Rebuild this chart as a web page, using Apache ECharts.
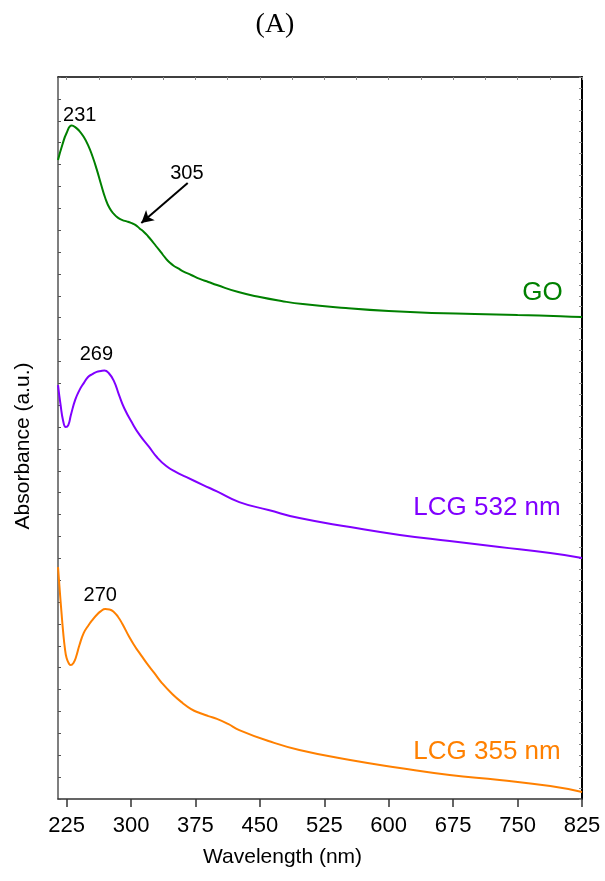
<!DOCTYPE html>
<html>
<head>
<meta charset="utf-8">
<script src="https://cdn.jsdelivr.net/npm/echarts@6/dist/echarts.min.js"></script>
<style>
  html, body { margin: 0; padding: 0; background: #fff; }
  #chart { width: 605px; height: 881px; }
</style>
</head>
<body>
<div id="chart"></div>
<script>
// UV-Vis absorbance spectra (arbitrary units, curves stacked vertically)
const goWavelength = [215, 220, 225, 231, 235, 240, 245, 250, 255, 260, 265, 270, 275, 280, 285, 290, 295, 300, 305, 310, 315, 320, 325, 330, 335, 340, 345, 350, 355, 360, 370, 380, 390, 400, 425, 450, 475, 500, 550, 600, 650, 700, 750, 800, 825];
const goAbsorbance = [2.921, 2.989, 3.044, 3.078, 3.071, 3.053, 3.026, 2.989, 2.939, 2.879, 2.811, 2.747, 2.701, 2.674, 2.656, 2.646, 2.640, 2.633, 2.624, 2.608, 2.592, 2.571, 2.548, 2.523, 2.498, 2.473, 2.452, 2.436, 2.425, 2.413, 2.395, 2.377, 2.363, 2.349, 2.317, 2.294, 2.276, 2.262, 2.244, 2.230, 2.221, 2.217, 2.212, 2.207, 2.203];

const lcg532Wavelength = [215, 218, 221, 224, 227, 230, 235, 240, 245, 250, 255, 260, 265, 269, 274, 280, 286, 292, 302, 310, 321, 330, 341, 352, 364, 384, 400, 426, 460, 496, 555, 613, 671, 729, 788, 825];
const lcg532Absorbance = [1.892, 1.801, 1.728, 1.700, 1.709, 1.755, 1.824, 1.869, 1.901, 1.929, 1.942, 1.952, 1.956, 1.958, 1.947, 1.911, 1.847, 1.787, 1.714, 1.664, 1.609, 1.563, 1.522, 1.495, 1.472, 1.435, 1.406, 1.357, 1.321, 1.284, 1.243, 1.207, 1.179, 1.152, 1.124, 1.102];

const lcg355Wavelength = [215, 217, 219, 221, 223, 225, 228, 230, 233, 236, 240, 245, 250, 255, 260, 265, 270, 275, 280, 285, 290, 298, 305, 310, 318, 327, 336, 348, 360, 370, 380, 390, 400, 413, 426, 460, 496, 555, 613, 671, 729, 788, 825];
const lcg355Absorbance = [1.060, 0.955, 0.855, 0.763, 0.690, 0.644, 0.617, 0.612, 0.622, 0.649, 0.704, 0.759, 0.791, 0.818, 0.841, 0.859, 0.868, 0.866, 0.855, 0.832, 0.800, 0.740, 0.695, 0.667, 0.622, 0.576, 0.530, 0.480, 0.439, 0.411, 0.393, 0.379, 0.366, 0.343, 0.315, 0.265, 0.224, 0.178, 0.142, 0.110, 0.087, 0.059, 0.032];

const xTickLabels = [225, 300, 375, 450, 525, 600, 675, 750, 825];
const xMinorTicks = [225, 262.5, 300, 337.5, 375, 412.5, 450, 487.5, 525, 562.5, 600, 637.5, 675, 712.5, 750, 787.5, 825];

// Peak annotations: [wavelength, absorbance]
const goPeak = [231, 3.078];
const lcg532Peak = [269, 1.958];
const lcg355Peak = [270, 0.868];
// Shoulder annotation for GO: label position and arrow pointing at the curve
const goShoulder = 305;
const goShoulderLabelAt = [365, 2.861];
const goShoulderArrow = [[366, 2.815], [312, 2.633]];

const seriesNames = ['GO', 'LCG 532 nm', 'LCG 355 nm'];
const seriesColors = ['#008000', '#8000ff', '#ff8000'];

const pair = (xs, ys) => xs.map((x, i) => [x, ys[i]]);
const lastPoint = (xs, ys) => [xs[xs.length - 1], ys[ys.length - 1]];
const textFont = 'Liberation Sans, Arial, sans-serif';

// Invisible anchor carrying a text label
function textMark(coord, text, offset, color, size) {
  return {
    coord: coord,
    symbol: 'circle',
    symbolSize: 1,
    itemStyle: { color: 'rgba(0,0,0,0)' },
    label: {
      show: true,
      formatter: String(text),
      position: 'inside',
      offset: offset,
      color: color,
      fontSize: size,
      fontFamily: textFont
    }
  };
}

const chart = echarts.init(document.getElementById('chart'), null, { renderer: 'canvas' });

const option = {
  backgroundColor: '#fff',
  animation: false,
  title: {
    text: '(A)',
    left: 270,
    top: 6,
    textAlign: 'center',
    textStyle: { fontFamily: 'Liberation Serif, Times New Roman, serif', fontSize: 28, fontWeight: 'normal', color: '#000' }
  },
  grid: { left: 58, right: 23, top: 77, bottom: 82, containLabel: false, outerBoundsMode: 'none' },
  xAxis: [
    {
      type: 'value', min: 215, max: 825, position: 'bottom',
      axisLine: { show: true, onZero: false, lineStyle: { color: '#333', width: 1.5 } },
      axisTick: { show: true, inside: false, length: 8, customValues: xTickLabels, lineStyle: { color: '#333', width: 1.5 } },
      axisLabel: { show: true, customValues: xTickLabels, margin: 16, color: '#000', fontSize: 22, fontFamily: textFont },
      splitLine: { show: false }
    },
    {
      type: 'value', min: 215, max: 825, position: 'top',
      axisLine: { show: true, onZero: false, lineStyle: { color: '#000', width: 1.5 } },
      axisTick: { show: true, inside: true, length: 3, customValues: xMinorTicks, lineStyle: { color: '#888', width: 1 } },
      axisLabel: { show: false },
      splitLine: { show: false }
    }
  ],
  yAxis: [
    {
      type: 'value', min: 0, max: 3.3, interval: 0.1, position: 'left',
      axisLine: { show: true, onZero: false, lineStyle: { color: '#555', width: 1.5 } },
      axisTick: { show: true, inside: true, length: 3, lineStyle: { color: '#555', width: 1 } },
      axisLabel: { show: false },
      splitLine: { show: false }
    },
    {
      type: 'value', min: 0, max: 3.3, interval: 0.05, position: 'right',
      axisLine: { show: true, onZero: false, lineStyle: { color: '#000', width: 2 } },
      axisTick: { show: true, inside: true, length: 3, lineStyle: { color: '#888', width: 1 } },
      axisLabel: { show: false },
      splitLine: { show: false }
    }
  ],
  graphic: [
    {
      type: 'text', left: 203, top: 847,
      style: { text: 'Wavelength (nm)', fill: '#000', font: '21px ' + textFont }
    },
    {
      type: 'text', x: 23, y: 446, rotation: Math.PI / 2,
      style: { text: 'Absorbance (a.u.)', fill: '#000', font: '21px ' + textFont, align: 'center', verticalAlign: 'middle' }
    }
  ],
  series: [
    {
      name: seriesNames[0], type: 'line', data: pair(goWavelength, goAbsorbance),
      smooth: 0.5, showSymbol: false,
      lineStyle: { color: seriesColors[0], width: 2 },
      markPoint: {
        silent: true,
        data: [
          textMark(goPeak, goPeak[0], [8, -10], '#000', 20),
          textMark(goShoulderLabelAt, goShoulder, [0, 0], '#000', 20),
          textMark(lastPoint(goWavelength, goAbsorbance), seriesNames[0], [-39.5, -24.5], seriesColors[0], 26)
        ]
      },
      markLine: {
        silent: true, symbol: ['none', 'arrow'], symbolSize: [10, 12],
        lineStyle: { color: '#000', width: 2, type: 'solid' },
        label: { show: false },
        data: [[{ coord: goShoulderArrow[0] }, { coord: goShoulderArrow[1] }]]
      }
    },
    {
      name: seriesNames[1], type: 'line', data: pair(lcg532Wavelength, lcg532Absorbance),
      smooth: 0.5, showSymbol: false,
      lineStyle: { color: seriesColors[1], width: 2 },
      markPoint: {
        silent: true,
        data: [
          textMark(lcg532Peak, lcg532Peak[0], [-8, -16], '#000', 20),
          textMark(lastPoint(lcg532Wavelength, lcg532Absorbance), seriesNames[1], [-95, -50.5], seriesColors[1], 26)
        ]
      }
    },
    {
      name: seriesNames[2], type: 'line', data: pair(lcg355Wavelength, lcg355Absorbance),
      smooth: 0.5, showSymbol: false,
      lineStyle: { color: seriesColors[2], width: 2 },
      markPoint: {
        silent: true,
        data: [
          textMark(lcg355Peak, lcg355Peak[0], [-5, -13.5], '#000', 20),
          textMark(lastPoint(lcg355Wavelength, lcg355Absorbance), seriesNames[2], [-95, -40], seriesColors[2], 26)
        ]
      }
    }
  ]
};

chart.setOption(option);
</script>
</body>
</html>
